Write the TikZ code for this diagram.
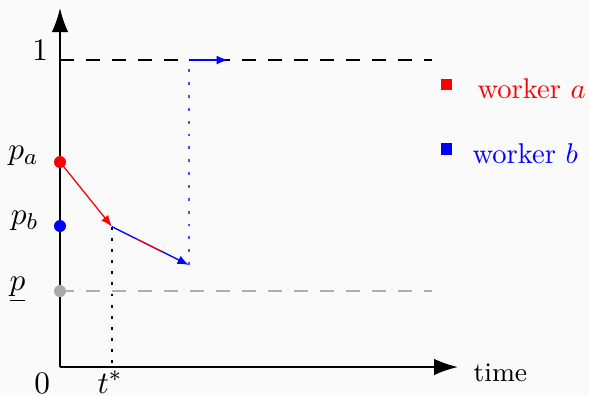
\documentclass[tikz,border=0pt]{standalone}
\usetikzlibrary{arrows.meta,calc}
\definecolor{bgc}{RGB}{250,250,250}
\definecolor{lvlgray}{RGB}{175,175,175}
\definecolor{dotgray}{RGB}{170,170,170}
\begin{document}
\begin{tikzpicture}[x=0.35pt,y=-0.35pt,
  axis/.style={line width=0.7pt,-{Latex[length=8.4pt,width=5.8pt]}},
  flow/.style={line width=0.45pt,-{Latex[length=4pt,width=3.1pt]}},
  lvl/.style={line width=0.5pt,dash pattern=on 4.9pt off 4.2pt},
  blackdots/.style={line width=0.6pt,dash pattern=on 1pt off 2.9pt},
  bluedots/.style={line width=0.75pt,blue!70,dash pattern=on 1pt off 3.5pt},
  dotm/.style={circle,inner sep=0pt,minimum size=4.2pt},
  lab/.style={inner sep=0pt,font=\fontsize{11}{13}\selectfont},
  leg/.style={inner sep=0pt,font=\fontsize{10}{12}\selectfont},
  sq/.style={rectangle,inner sep=0pt,minimum size=3.9pt}]
\fill[bgc] (0,0) rectangle (589,395);
\useasboundingbox (0,0) rectangle (589,395);
% coordinates
\coordinate (O) at (60,367);
\coordinate (ytip) at (60,8);
\coordinate (xtip) at (458,367);
\coordinate (one) at (60,60);
\coordinate (oneend) at (432,60);
\coordinate (plowend) at (432,291);
\coordinate (ts) at (112,226.7);
\coordinate (tsaxis) at (112,367);
\coordinate (bend) at (189,265);
\coordinate (btop) at (189,60);
\coordinate (bright) at (228,60);
% levels
\draw[lvl] (one) -- (oneend);
\draw[lvl,lvlgray] (60,291) -- (plowend);
% axes
\draw[axis] (O) -- (ytip);
\draw[axis] (O) -- (xtip);
% t* dotted
\draw[blackdots] (ts) -- (tsaxis);
% paths
\draw[flow,red] (60,162) -- (ts);
\draw[flow,blue] (ts) -- (bend);
\draw[line width=0.45pt,red] ($(ts)!0.32!(bend)$) -- ($(ts)!0.65!(bend)$);
\draw[bluedots] (bend) -- (btop);
\draw[flow,blue] (btop) -- (bright);
% dots
\node[dotm,fill=red] (pa) at (60,162) {};
\node[dotm,fill=blue] (pb) at (60,226) {};
\node[dotm,fill=dotgray] (plow) at (60,291) {};
% labels
\node[lab,anchor=base east] (lone) at (48.5,60) {$1$};
\node[lab,anchor=base east] (lpa) at (39,159.5) {$p_a$};
\node[lab,anchor=base east] (lpb) at (39,224.6) {$p_b$};
\node[lab,anchor=base east] (lplow) at (26,290.6) {$\underline{p}$};
\node[lab,anchor=base east] (lzero) at (50.5,393) {$0$};
\node[lab,anchor=base west] (lts) at (97,393) {$t^*$};
\node[leg,anchor=base west,font=\fontsize{9.4}{11}\selectfont] (ltime) at (473,381) {time};
% legend
\node[sq,fill=red] (sqa) at (446.5,84.5) {};
\node[sq,fill=blue] (sqb) at (446.5,149) {};
\node[leg,anchor=base west,text=red] (lega) at (477,98) {worker $a$};
\node[leg,anchor=base west,text=blue] (legb) at (472,163) {worker $b$};
\end{tikzpicture}
\end{document}
